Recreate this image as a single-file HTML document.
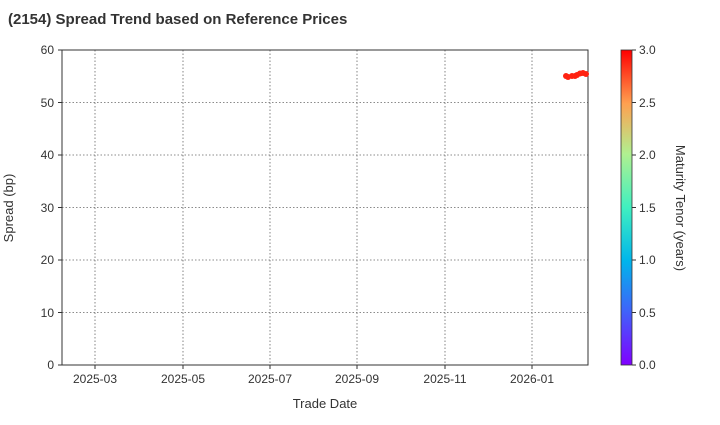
<!DOCTYPE html><html><head><style>body{margin:0;background:#fff}svg text{font-family:"Liberation Sans",sans-serif;fill:#333}</style></head><body>
<svg width="720" height="420" xmlns="http://www.w3.org/2000/svg">
<defs><linearGradient id="g" x1="0" y1="1" x2="0" y2="0">
<stop offset="0" stop-color="#8000ff"/><stop offset="0.17" stop-color="#4062fa"/><stop offset="0.33" stop-color="#00b5eb"/><stop offset="0.5" stop-color="#40f0c0"/><stop offset="0.67" stop-color="#b0f090"/><stop offset="0.83" stop-color="#ffa050"/><stop offset="1" stop-color="#ff0000"/></linearGradient></defs>
<text x="8" y="24" font-size="15" font-weight="bold">(2154)   Spread Trend based on Reference Prices</text>
<g stroke="#666" stroke-dasharray="1.5,2" stroke-width="0.8">
<line x1="95" y1="50" x2="95" y2="365"/><line x1="183" y1="50" x2="183" y2="365"/><line x1="270" y1="50" x2="270" y2="365"/><line x1="357" y1="50" x2="357" y2="365"/><line x1="445" y1="50" x2="445" y2="365"/><line x1="532" y1="50" x2="532" y2="365"/>
<line x1="62" y1="102.5" x2="588" y2="102.5"/><line x1="62" y1="155" x2="588" y2="155"/><line x1="62" y1="207.5" x2="588" y2="207.5"/><line x1="62" y1="260" x2="588" y2="260"/><line x1="62" y1="312.5" x2="588" y2="312.5"/></g>
<rect x="62" y="50" width="526" height="315" fill="none" stroke="#333" stroke-width="1"/>
<g fill="#f21" ><circle cx="566" cy="76" r="3"/><circle cx="568" cy="77" r="3"/><circle cx="572" cy="76" r="3"/><circle cx="575" cy="76" r="3"/><circle cx="577" cy="75" r="3"/><circle cx="580" cy="73.5" r="3"/><circle cx="583" cy="73" r="3"/><circle cx="586" cy="74" r="3"/></g>
<g font-size="12" text-anchor="end"><text x="54" y="369">0</text><text x="54" y="317">10</text><text x="54" y="264">20</text><text x="54" y="212">30</text><text x="54" y="159">40</text><text x="54" y="107">50</text><text x="54" y="54">60</text></g>
<g stroke="#333"><line x1="58" y1="365" x2="62" y2="365"/><line x1="58" y1="312.5" x2="62" y2="312.5"/><line x1="58" y1="260" x2="62" y2="260"/><line x1="58" y1="207.5" x2="62" y2="207.5"/><line x1="58" y1="155" x2="62" y2="155"/><line x1="58" y1="102.5" x2="62" y2="102.5"/><line x1="58" y1="50" x2="62" y2="50"/>
<line x1="95" y1="365" x2="95" y2="369"/><line x1="183" y1="365" x2="183" y2="369"/><line x1="270" y1="365" x2="270" y2="369"/><line x1="357" y1="365" x2="357" y2="369"/><line x1="445" y1="365" x2="445" y2="369"/><line x1="532" y1="365" x2="532" y2="369"/></g>
<g font-size="12" text-anchor="middle"><text x="95" y="383">2025-03</text><text x="183" y="383">2025-05</text><text x="270" y="383">2025-07</text><text x="357" y="383">2025-09</text><text x="445" y="383">2025-11</text><text x="532" y="383">2026-01</text></g>
<g font-size="13" text-anchor="middle">
<text x="325" y="408">Trade Date</text>
<text transform="translate(13,208) rotate(-90)">Spread (bp)</text>
<text transform="translate(676,208) rotate(90)">Maturity Tenor (years)</text></g>
<rect x="621" y="50" width="11" height="315" fill="url(#g)" stroke="#333" stroke-width="0.8"/>
<g stroke="#333"><line x1="632" y1="365" x2="636" y2="365"/><line x1="632" y1="312.5" x2="636" y2="312.5"/><line x1="632" y1="260" x2="636" y2="260"/><line x1="632" y1="207.5" x2="636" y2="207.5"/><line x1="632" y1="155" x2="636" y2="155"/><line x1="632" y1="102.5" x2="636" y2="102.5"/><line x1="632" y1="50" x2="636" y2="50"/></g>
<g font-size="12"><text x="639" y="369">0.0</text><text x="639" y="317">0.5</text><text x="639" y="264">1.0</text><text x="639" y="212">1.5</text><text x="639" y="159">2.0</text><text x="639" y="107">2.5</text><text x="639" y="54">3.0</text></g>
</svg></body></html>
